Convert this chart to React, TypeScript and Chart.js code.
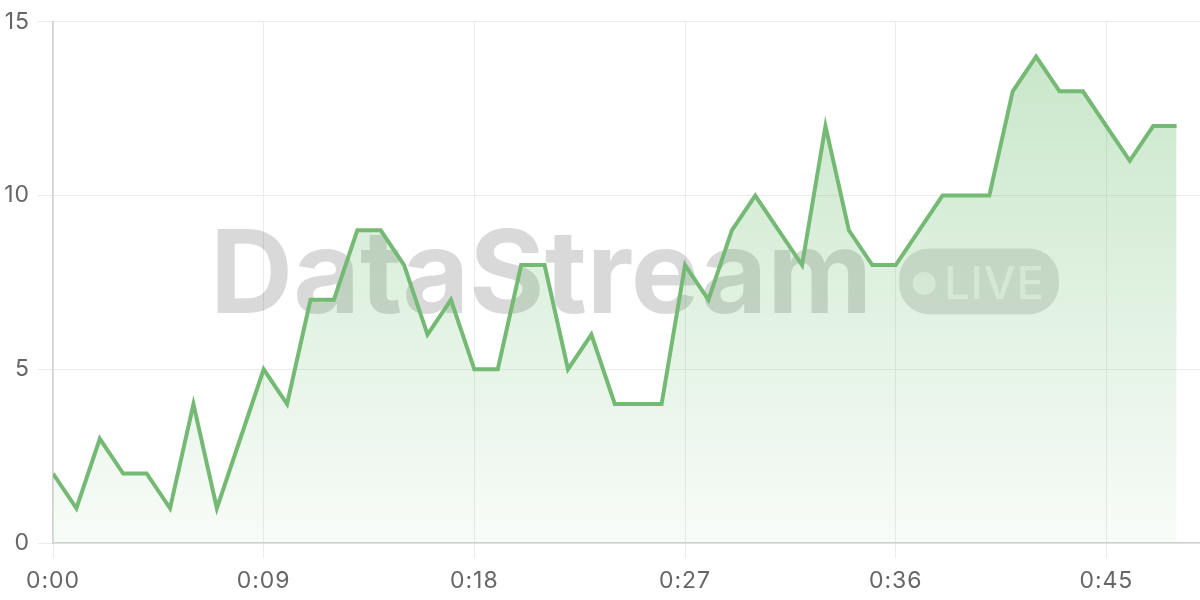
import { useEffect, useRef } from "react";
import { Chart, registerables } from "chart.js";

Chart.register(...registerables);

// elapsed time in seconds, one sample per second
const seconds = [
  0, 1, 2, 3, 4, 5, 6, 7, 8, 9, 10, 11, 12, 13, 14, 15, 16, 17, 18, 19, 20, 21, 22, 23, 24,
  25, 26, 27, 28, 29, 30, 31, 32, 33, 34, 35, 36, 37, 38, 39, 40, 41, 42, 43, 44, 45, 46, 47, 48,
];
const values = [
  2, 1, 3, 2, 2, 1, 4, 1, 3, 5, 4, 7, 7, 9, 9, 8, 6, 7, 5, 5, 8, 8, 5, 6, 4,
  4, 4, 8, 7, 9, 10, 9, 8, 12, 9, 8, 8, 9, 10, 10, 10, 13, 14, 13, 13, 12, 11, 12, 12,
];

const X_MAX = 49;
const X_STEP = 9;
const Y_MAX = 15;
const Y_STEP = 5;

const LINE = "#74ba74";
const GRID = "#ebebeb";
const AXIS = "#d4d4d4";
const TEXT = "#666666";

function fmtTime(v: number): string {
  const m = Math.floor(v / 60);
  const s = Math.round(v % 60);
  return `${m}:${s < 10 ? "0" : ""}${s}`;
}

// slightly looser tracking for the axis labels
const tracking = {
  id: "tracking",
  beforeDraw(chart: Chart) {
    (chart.ctx as any).letterSpacing = "1px";
  },
  afterDraw(chart: Chart) {
    (chart.ctx as any).letterSpacing = "0px";
  },
};

// big "DataStream • LIVE" mark behind the line
const watermark = {
  id: "watermark",
  beforeDatasetsDraw(chart: Chart) {
    const { ctx, chartArea } = chart;
    const c = ctx as any;
    const cx = (chartArea.left + chartArea.right) / 2 + 6;
    const cy = (chartArea.top + chartArea.bottom) / 2;

    ctx.save();
    c.letterSpacing = "0px";
    ctx.font = "bold 115px Inter";
    const titleW = ctx.measureText("DataStream").width;
    c.letterSpacing = "1px";
    ctx.font = "500 45px Inter";
    const liveW = ctx.measureText("LIVE").width;

    const gap = 27;
    const pillW = 45 + liveW + 14;
    const pillH = 66;
    const total = titleW + gap + pillW;
    const x0 = cx - total / 2 + 2;

    c.letterSpacing = "0px";
    ctx.fillStyle = "rgba(0,0,0,0.15)";
    ctx.font = "bold 115px Inter";
    ctx.textBaseline = "alphabetic";
    ctx.textAlign = "left";
    ctx.fillText("DataStream", x0, cy + 31);

    const px = x0 + titleW + gap;
    const py = cy - 1 - pillH / 2;
    ctx.fillStyle = "rgba(0,0,0,0.12)";
    ctx.beginPath();
    ctx.roundRect(px, py, pillW, pillH, 30);
    ctx.fill();

    ctx.fillStyle = "rgba(255,255,255,0.6)";
    ctx.beginPath();
    ctx.arc(px + 25, cy + 1, 11.5, 0, Math.PI * 2);
    ctx.fill();

    c.letterSpacing = "1px";
    ctx.font = "500 45px Inter";
    ctx.fillText("LIVE", px + 45, cy + 17);
    ctx.restore();
  },
};

function makeChart(canvas: HTMLCanvasElement): Chart {
  const ctx = canvas.getContext("2d") as CanvasRenderingContext2D;

  Chart.defaults.font.family = "Inter";
  Chart.defaults.font.size = 23;
  Chart.defaults.color = TEXT;

  return new Chart(ctx, {
    type: "line",
    data: {
      datasets: [
        {
          label: "Stream",
          data: seconds.map((s, i) => ({ x: s, y: values[i] })),
          borderColor: LINE,
          borderWidth: 4,
          pointRadius: 0,
          tension: 0,
          fill: "origin",
          backgroundColor: (c: any) => {
            const area = c.chart.chartArea;
            if (!area) return "rgba(76,175,80,0.2)";
            const g = c.chart.ctx.createLinearGradient(0, area.top, 0, area.bottom);
            g.addColorStop(0, "rgba(76,175,80,0.32)");
            g.addColorStop(1, "rgba(76,175,80,0.04)");
            return g;
          },
        },
      ],
    },
    options: {
      animation: false,
      responsive: true,
      maintainAspectRatio: false,
      layout: { padding: { top: 20, right: 0, bottom: 0, left: 0 } },
      plugins: {
        legend: { display: false },
        tooltip: { enabled: false },
      },
      scales: {
        x: {
          type: "linear",
          min: 0,
          max: X_MAX,
          grid: { color: GRID, tickLength: 15, tickColor: GRID },
          border: { color: AXIS, width: 1.5 },
          ticks: {
            stepSize: X_STEP,
            includeBounds: false,
            padding: 9,
            maxRotation: 0,
            callback: (v: any) => fmtTime(Number(v)),
          },
          afterFit: (scale: any) => {
            scale.height = 57;
          },
        },
        y: {
          min: 0,
          max: Y_MAX,
          grid: { color: GRID, tickLength: 15, tickColor: GRID },
          border: { color: AXIS, width: 1.5 },
          ticks: { stepSize: Y_STEP, padding: 8 },
          afterFit: (scale: any) => {
            scale.width = 53;
          },
        },
      },
    },
    plugins: [tracking, watermark],
  });
}

export default function App() {
  const canvasRef = useRef<HTMLCanvasElement>(null);

  useEffect(() => {
    document.body.style.margin = "0";
    const chart = makeChart(canvasRef.current!);
    return () => {
      chart.destroy();
    };
  }, []);

  return (
    <div style={{ position: "relative", width: 1200, height: 600, background: "#fff" }}>
      <canvas ref={canvasRef}></canvas>
    </div>
  );
}
